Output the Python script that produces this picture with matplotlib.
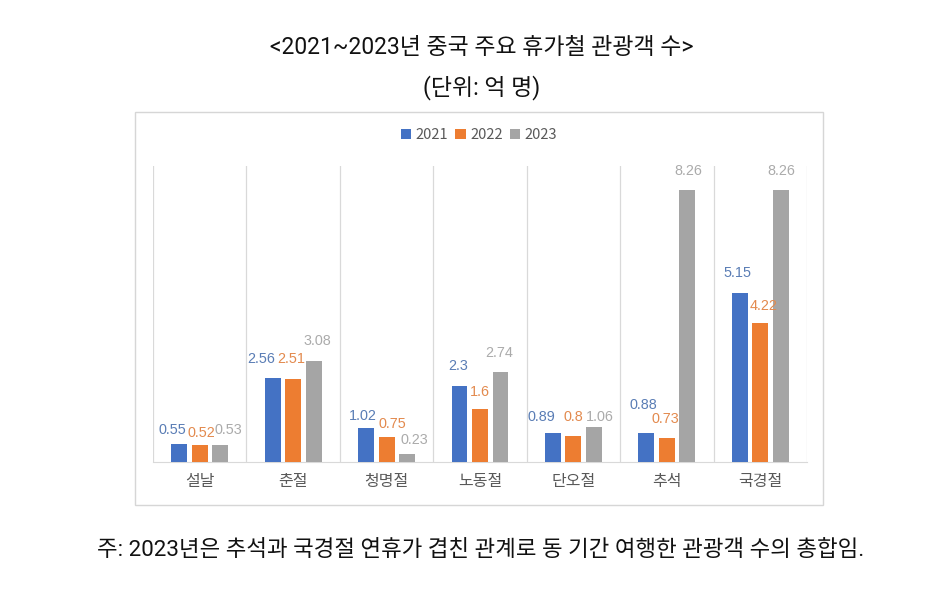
import matplotlib
matplotlib.use("Agg")
import matplotlib.pyplot as plt
import numpy as np
from matplotlib.patches import Rectangle

plt.rcParams['font.family'] = ['Noto Sans CJK KR', 'DejaVu Sans']

categories = ['설날', '춘절', '청명절', '노동절', '단오절', '추석', '국경절']
years = ['2021', '2022', '2023']
v2021 = [0.55, 2.56, 1.02, 2.3, 0.89, 0.88, 5.15]
v2022 = [0.52, 2.51, 0.75, 1.6, 0.8, 0.73, 4.22]
v2023 = [0.53, 3.08, 0.23, 2.74, 1.06, 8.26, 8.26]
labels2021 = ['0.55', '2.56', '1.02', '2.3', '0.89', '0.88', '5.15']
labels2022 = ['0.52', '2.51', '0.75', '1.6', '0.8', '0.73', '4.22']
labels2023 = ['0.53', '3.08', '0.23', '2.74', '1.06', '8.26', '8.26']

title = '<2021~2023년 중국 주요 휴가철 관광객 수>'
subtitle = '(단위: 억 명)'
note = '주: 2023년은 추석과 국경절 연휴가 겹친 관계로 동 기간 여행한 관광객 수의 총합임.'

bar_colors = ['#4472C4', '#ED7D31', '#A5A5A5']
label_colors = ['#5A7DB5', '#E38A4E', '#ABABAB']

# label placement nudges (pixels): horizontal shift from bar centre, height of label centre above bar top
label_dx = [[-7, -11, -3, -1, -11, -2.5, -2],
            [1.5, -1.5, 5.5, 0, 0, -1.5, 3.5],
            [8, 4, 7, -1, 5.5, 0.5, 0]]
label_dy = [[14, 19, 12.5, 20, 16, 28, 20],
            [12, 20, 13, 17, 19, 19, 17],
            [15, 20, 14, 19, 10, 19, 19]]

W, H = 930, 599
fig = plt.figure(figsize=(W / 100, H / 100), dpi=100)

# chart border box
fig.patches.append(Rectangle((135 / W, 1 - 505 / H), (823 - 135) / W, (505 - 112) / H,
                             transform=fig.transFigure, fill=False, edgecolor='#D6D6D6', linewidth=1.0))

ax = fig.add_axes([153 / W, 1 - 462 / H, (807 - 153) / W, (462 - 166) / H])
n = len(categories)
x = np.arange(n)
width = 0.17
offsets = [-0.22, 0.0, 0.22]
series = [v2021, v2022, v2023]
lbls = [labels2021, labels2022, labels2023]
for i in range(3):
    bars = ax.bar(x + offsets[i], series[i], width=width, color=bar_colors[i], label=years[i], zorder=3)
    for j, (b, t) in enumerate(zip(bars, lbls[i])):
        ax.annotate(t, (b.get_x() + b.get_width() / 2, b.get_height()),
                    xytext=(label_dx[i][j] * 0.72, label_dy[i][j] * 0.72),
                    textcoords='offset points', ha='center', va='center',
                    fontsize=10.4, color=label_colors[i], family=['Liberation Sans', 'DejaVu Sans'],
                    zorder=4)

ax.set_xlim(-0.5, n - 0.5)
ax.set_ylim(0, 9)
for s in ['top', 'right', 'left']:
    ax.spines[s].set_visible(False)
ax.spines['bottom'].set_color('#D9D9D9')
ax.set_yticks([])
ax.set_xticks(x)
ax.set_xticklabels(categories, fontsize=11.5, color='#595959')
ax.tick_params(axis='x', length=0, pad=8)
for k in range(n + 1):
    ax.axvline(k - 0.5, color='#D9D9D9', linewidth=0.9, zorder=1)

leg = fig.legend(loc='center', bbox_to_anchor=(479 / W, 1 - 135 / H), ncol=3, frameon=False,
                 fontsize=10.5, handlelength=0.7, handleheight=0.7, handletextpad=0.3,
                 columnspacing=0.5, labelcolor='#595959')

tfam = ['Roboto', 'Noto Sans CJK KR', 'DejaVu Sans']
fig.text(482 / W, 1 - 47 / H, title, ha='center', va='center', fontsize=16.5, color='#111111', family=tfam)
fig.text(482 / W, 1 - 88 / H, subtitle, ha='center', va='center', fontsize=16.5, color='#111111', family=tfam)
fig.text(481 / W, 1 - 551 / H, note, ha='center', va='center', fontsize=16.1, color='#111111', family=tfam)

fig.savefig('out.png', dpi=100)
